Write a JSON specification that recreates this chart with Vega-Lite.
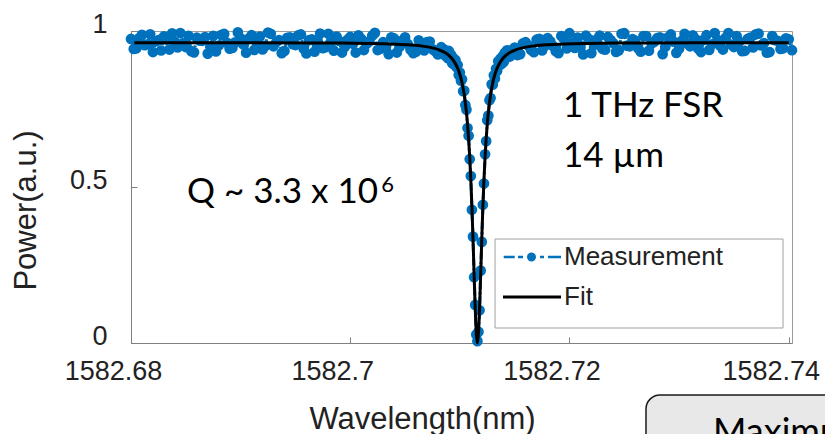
{
  "$schema": "https://vega.github.io/schema/vega-lite/v6.json",
  "width": 661,
  "height": 312,
  "autosize": "none",
  "padding": {"left": 131, "top": 31, "right": 33, "bottom": 91},
  "background": "white",
  "config": {
    "view": {"stroke": "#9a9a9a", "strokeWidth": 1},
    "axis": {
      "grid": false,
      "domainColor": "#808080",
      "tickColor": "#808080",
      "tickSize": -6,
      "labelFont": "Liberation Sans",
      "labelColor": "#222222",
      "titleFont": "Liberation Sans",
      "titleColor": "#222222",
      "titleFontWeight": "normal"
    }
  },
  "datasets": {
    "measurement": [
      {"x":1582.6800,"y":0.9745},{"x":1582.6805,"y":0.9445},{"x":1582.6810,"y":0.9875},{"x":1582.6815,"y":0.9575},
      {"x":1582.6820,"y":0.9325},{"x":1582.6825,"y":0.9705},{"x":1582.6830,"y":0.9825},{"x":1582.6835,"y":0.9405},
      {"x":1582.6840,"y":0.9655},{"x":1582.6845,"y":0.9935},{"x":1582.6850,"y":0.9485},{"x":1582.6855,"y":0.9355},
      {"x":1582.6860,"y":0.9785},{"x":1582.6865,"y":0.9685},{"x":1582.6870,"y":0.9275},{"x":1582.6875,"y":0.9845},
      {"x":1582.6880,"y":0.9535},{"x":1582.6885,"y":0.9905},{"x":1582.6890,"y":0.9435},{"x":1582.6895,"y":0.9635},
      {"x":1582.6900,"y":0.9765},{"x":1582.6905,"y":0.9305},{"x":1582.6910,"y":0.9865},{"x":1582.6915,"y":0.9595},
      {"x":1582.6920,"y":0.941},{"x":1582.6925,"y":0.995},{"x":1582.6930,"y":0.951},{"x":1582.6935,"y":0.971},
      {"x":1582.6940,"y":0.936},{"x":1582.6945,"y":0.980},{"x":1582.6950,"y":0.955},{"x":1582.6955,"y":0.989},
      {"x":1582.6960,"y":0.928},{"x":1582.6965,"y":0.973},{"x":1582.6970,"y":0.963},{"x":1582.6975,"y":0.945},
      {"x":1582.6980,"y":0.991},{"x":1582.6985,"y":0.937},{"x":1582.6990,"y":0.968},{"x":1582.6995,"y":0.949},
      {"x":1582.7000,"y":0.981},{"x":1582.7005,"y":0.931},{"x":1582.7010,"y":0.975},{"x":1582.7015,"y":0.959},
      {"x":1582.7020,"y":0.985},{"x":1582.7025,"y":0.939},{"x":1582.7030,"y":0.964},{"x":1582.7035,"y":0.926},
      {"x":1582.7040,"y":0.976},{"x":1582.7045,"y":0.949},{"x":1582.7050,"y":0.9795},{"x":1582.7055,"y":0.940},
      {"x":1582.7060,"y":0.934},{"x":1582.7065,"y":0.961},{"x":1582.7070,"y":0.964},{"x":1582.7075,"y":0.942},
      {"x":1582.7080,"y":0.925},{"x":1582.7083,"y":0.948},
      {"x":1582.68025,"y":0.9425},{"x":1582.68075,"y":0.9775},{"x":1582.68125,"y":0.9545},{"x":1582.68175,"y":0.9895},
      {"x":1582.68225,"y":0.9665},{"x":1582.68275,"y":0.9375},{"x":1582.68325,"y":0.9725},{"x":1582.68375,"y":0.9925},
      {"x":1582.68425,"y":0.9475},{"x":1582.68475,"y":0.9605},{"x":1582.68525,"y":0.9845},{"x":1582.68575,"y":0.9315},
      {"x":1582.68625,"y":0.9695},{"x":1582.68675,"y":0.9805},{"x":1582.68725,"y":0.9505},{"x":1582.68775,"y":0.9345},
      {"x":1582.68825,"y":0.9875},{"x":1582.68875,"y":0.9625},{"x":1582.68925,"y":0.9455},{"x":1582.68975,"y":0.9955},
      {"x":1582.69025,"y":0.9565},{"x":1582.69075,"y":0.9755},{"x":1582.69125,"y":0.9395},{"x":1582.69175,"y":0.982},
      {"x":1582.69225,"y":0.952},{"x":1582.69275,"y":0.991},{"x":1582.69325,"y":0.964},{"x":1582.69375,"y":0.929},
      {"x":1582.69425,"y":0.978},{"x":1582.69475,"y":0.958},{"x":1582.69525,"y":0.986},{"x":1582.69575,"y":0.943},
      {"x":1582.69625,"y":0.971},{"x":1582.69675,"y":0.934},{"x":1582.69725,"y":0.992},{"x":1582.69775,"y":0.948},
      {"x":1582.69825,"y":0.966},{"x":1582.69875,"y":0.982},{"x":1582.69925,"y":0.931},{"x":1582.69975,"y":0.972},
      {"x":1582.70025,"y":0.959},{"x":1582.70075,"y":0.986},{"x":1582.70125,"y":0.939},{"x":1582.70175,"y":0.967},
      {"x":1582.70225,"y":0.994},{"x":1582.70275,"y":0.943},{"x":1582.70325,"y":0.950},{"x":1582.70375,"y":0.980},
      {"x":1582.70425,"y":0.931},{"x":1582.70475,"y":0.9695},{"x":1582.70525,"y":0.9585},{"x":1582.70575,"y":0.929},
      {"x":1582.70625,"y":0.970},{"x":1582.70675,"y":0.938},{"x":1582.70725,"y":0.966},{"x":1582.70775,"y":0.935},
      {"x":1582.7086,"y":0.940},{"x":1582.7087,"y":0.920},{"x":1582.7088,"y":0.932},{"x":1582.7089,"y":0.913},
      {"x":1582.7090,"y":0.936},{"x":1582.7091,"y":0.913},{"x":1582.7092,"y":0.924},{"x":1582.7093,"y":0.897},
      {"x":1582.7094,"y":0.913},{"x":1582.7095,"y":0.892},{"x":1582.7096,"y":0.907},{"x":1582.7097,"y":0.884},
      {"x":1582.7098,"y":0.891},{"x":1582.7099,"y":0.859},{"x":1582.7100,"y":0.867},{"x":1582.7101,"y":0.841},
      {"x":1582.7102,"y":0.845},{"x":1582.7103,"y":0.807},{"x":1582.7104,"y":0.809},{"x":1582.7105,"y":0.763},
      {"x":1582.7106,"y":0.748},{"x":1582.7107,"y":0.689},{"x":1582.7108,"y":0.664},{"x":1582.7109,"y":0.589},
      {"x":1582.7110,"y":0.535},{"x":1582.7111,"y":0.427},{"x":1582.7112,"y":0.341},{"x":1582.7113,"y":0.211},
      {"x":1582.7114,"y":0.122},{"x":1582.7115,"y":0.027},{"x":1582.7116,"y":0.006},{"x":1582.7117,"y":0.036},
      {"x":1582.7118,"y":0.105},{"x":1582.7119,"y":0.232},{"x":1582.7120,"y":0.324},{"x":1582.7121,"y":0.443},
      {"x":1582.7122,"y":0.511},{"x":1582.7123,"y":0.605},{"x":1582.7124,"y":0.647},{"x":1582.7125,"y":0.714},
      {"x":1582.7126,"y":0.729},{"x":1582.7127,"y":0.778},{"x":1582.7128,"y":0.785},{"x":1582.7129,"y":0.829},
      {"x":1582.7130,"y":0.828},{"x":1582.7131,"y":0.858},{"x":1582.7132,"y":0.848},{"x":1582.7133,"y":0.879},
      {"x":1582.7134,"y":0.872},{"x":1582.7135,"y":0.903},{"x":1582.7136,"y":0.890},{"x":1582.7137,"y":0.911},
      {"x":1582.7138,"y":0.894},{"x":1582.7139,"y":0.919},{"x":1582.7140,"y":0.901},{"x":1582.7141,"y":0.930},
      {"x":1582.7142,"y":0.915},{"x":1582.7143,"y":0.938},{"x":1582.7144,"y":0.917},{"x":1582.7145,"y":0.936},
      {"x":1582.7146,"y":0.919},
      {"x":1582.7150,"y":0.947},{"x":1582.7155,"y":0.926},{"x":1582.7160,"y":0.964},{"x":1582.7165,"y":0.939},
      {"x":1582.7170,"y":0.972},{"x":1582.7175,"y":0.9375},{"x":1582.7180,"y":0.9775},{"x":1582.7185,"y":0.952},
      {"x":1582.7190,"y":0.929},{"x":1582.7195,"y":0.975},{"x":1582.7200,"y":0.993},{"x":1582.7205,"y":0.946},
      {"x":1582.7210,"y":0.953},{"x":1582.7215,"y":0.985},{"x":1582.7220,"y":0.929},{"x":1582.7225,"y":0.973},
      {"x":1582.7230,"y":0.943},{"x":1582.7235,"y":0.981},{"x":1582.7240,"y":0.961},{"x":1582.7245,"y":0.938},
      {"x":1582.7250,"y":0.993},{"x":1582.7255,"y":0.951},{"x":1582.7260,"y":0.969},{"x":1582.7265,"y":0.934},
      {"x":1582.7270,"y":0.984},{"x":1582.7275,"y":0.960},{"x":1582.7280,"y":0.977},{"x":1582.7285,"y":0.926},
      {"x":1582.7290,"y":0.980},{"x":1582.7295,"y":0.966},{"x":1582.7300,"y":0.943},{"x":1582.7305,"y":0.991},
      {"x":1582.7310,"y":0.951},{"x":1582.7315,"y":0.974},{"x":1582.7320,"y":0.9325},{"x":1582.7325,"y":0.9865},
      {"x":1582.7330,"y":0.9575},{"x":1582.7335,"y":0.9715},{"x":1582.7340,"y":0.9405},{"x":1582.7345,"y":0.9935},
      {"x":1582.7350,"y":0.9485},{"x":1582.7355,"y":0.9655},{"x":1582.7360,"y":0.9365},{"x":1582.7365,"y":0.9785},
      {"x":1582.7370,"y":0.9895},{"x":1582.7375,"y":0.9535},{"x":1582.7380,"y":0.9305},{"x":1582.7385,"y":0.9835},
      {"x":1582.7390,"y":0.9685},{"x":1582.7395,"y":0.9445},{"x":1582.7400,"y":0.9735},{"x":1582.7403,"y":0.9385},
      {"x":1582.71525,"y":0.923},{"x":1582.71575,"y":0.960},{"x":1582.71625,"y":0.953},{"x":1582.71675,"y":0.932},
      {"x":1582.71725,"y":0.975},{"x":1582.71775,"y":0.952},{"x":1582.71825,"y":0.967},{"x":1582.71875,"y":0.935},
      {"x":1582.71925,"y":0.984},{"x":1582.71975,"y":0.944},{"x":1582.72025,"y":0.960},{"x":1582.72075,"y":0.979},
      {"x":1582.72125,"y":0.925},{"x":1582.72175,"y":0.975},{"x":1582.72225,"y":0.955},{"x":1582.72275,"y":0.985},
      {"x":1582.72325,"y":0.940},{"x":1582.72375,"y":0.971},{"x":1582.72425,"y":0.933},{"x":1582.72475,"y":0.991},
      {"x":1582.72525,"y":0.953},{"x":1582.72575,"y":0.974},{"x":1582.72625,"y":0.945},{"x":1582.72675,"y":0.984},
      {"x":1582.72725,"y":0.937},{"x":1582.72775,"y":0.966},{"x":1582.72825,"y":0.980},{"x":1582.72875,"y":0.950},
      {"x":1582.72925,"y":0.989},{"x":1582.72975,"y":0.930},{"x":1582.73025,"y":0.969},{"x":1582.73075,"y":0.960},
      {"x":1582.73125,"y":0.986},{"x":1582.73175,"y":0.9435},{"x":1582.73225,"y":0.9715},{"x":1582.73275,"y":0.9395},
      {"x":1582.73325,"y":0.9935},{"x":1582.73375,"y":0.9525},{"x":1582.73425,"y":0.9785},{"x":1582.73475,"y":0.9565},
      {"x":1582.73525,"y":0.9835},{"x":1582.73575,"y":0.9355},{"x":1582.73625,"y":0.9745},{"x":1582.73675,"y":0.9475},
      {"x":1582.73725,"y":0.9915},{"x":1582.73775,"y":0.9615},{"x":1582.73825,"y":0.9325},{"x":1582.73875,"y":0.9705},
      {"x":1582.73925,"y":0.9425},{"x":1582.73975,"y":0.9765}
    ],
    "fit": [
      {"x":1582.6803,"y":0.9627},{"x":1582.6866,"y":0.9625},{"x":1582.6916,"y":0.9623},{"x":1582.6966,"y":0.9617},
      {"x":1582.6991,"y":0.9612},{"x":1582.7016,"y":0.9601},{"x":1582.7036,"y":0.9585},{"x":1582.7046,"y":0.9571},
      {"x":1582.7056,"y":0.9550},{"x":1582.7066,"y":0.9515},{"x":1582.7076,"y":0.9451},{"x":1582.7081,"y":0.9398},
      {"x":1582.7086,"y":0.9317},{"x":1582.7090,"y":0.9218},{"x":1582.7093,"y":0.9109},{"x":1582.7096,"y":0.8953},
      {"x":1582.7098,"y":0.8808},{"x":1582.7100,"y":0.8612},{"x":1582.7102,"y":0.8342},{"x":1582.7104,"y":0.7958},
      {"x":1582.7106,"y":0.7394},{"x":1582.7107,"y":0.7012},{"x":1582.7108,"y":0.6539},{"x":1582.7109,"y":0.5954},
      {"x":1582.7110,"y":0.5233},{"x":1582.7111,"y":0.4358},{"x":1582.7112,"y":0.3331},{"x":1582.7113,"y":0.2208},
      {"x":1582.7114,"y":0.1125},{"x":1582.7115,"y":0.0308},{"x":1582.7116,"y":0.0},
      {"x":1582.7117,"y":0.0308},{"x":1582.7118,"y":0.1125},{"x":1582.7119,"y":0.2208},{"x":1582.7120,"y":0.3331},
      {"x":1582.7121,"y":0.4358},{"x":1582.7122,"y":0.5233},{"x":1582.7123,"y":0.5954},{"x":1582.7124,"y":0.6539},
      {"x":1582.7125,"y":0.7012},{"x":1582.7126,"y":0.7394},{"x":1582.7128,"y":0.7958},{"x":1582.7130,"y":0.8342},
      {"x":1582.7132,"y":0.8612},{"x":1582.7134,"y":0.8808},{"x":1582.7136,"y":0.8953},{"x":1582.7139,"y":0.9109},
      {"x":1582.7142,"y":0.9218},{"x":1582.7146,"y":0.9317},{"x":1582.7151,"y":0.9398},{"x":1582.7156,"y":0.9451},
      {"x":1582.7166,"y":0.9515},{"x":1582.7176,"y":0.9550},{"x":1582.7186,"y":0.9571},{"x":1582.7196,"y":0.9585},
      {"x":1582.7216,"y":0.9601},{"x":1582.7241,"y":0.9612},{"x":1582.7266,"y":0.9617},{"x":1582.7316,"y":0.9623},
      {"x":1582.7366,"y":0.9625},{"x":1582.7400,"y":0.9627}
    ],
    "notes": [
      {"x":1582.71941,"y":0.7244,"label":"1 THz FSR","size":35},
      {"x":1582.71941,"y":0.5641,"label":"14 µm","size":35},
      {"x":1582.68511,"y":0.4487,"label":"Q ~ 3.3 x 10","size":35},
      {"x":1582.70282,"y":0.484,"label":"6","size":22},
      {"x":1582.73309,"y":-0.3237,"label":"Maximum","size":36}
    ],
    "boxes": [
      {"x":1582.71321,"x2":1582.73948,"y":0.3333,"y2":0.0481,"kind":"legend"},
      {"x":1582.72698,"x2":1582.76,"y":-0.1667,"y2":-0.6,"kind":"callout"}
    ]
  },
  "encoding": {
    "x": {
      "field": "x",
      "type": "quantitative",
      "scale": {"domain": [1582.68, 1582.7403], "nice": false, "zero": false},
      "axis": {
        "title": "Wavelength(nm)",
        "values": [1582.68, 1582.7, 1582.72, 1582.74],
        "format": "~g",
        "labelFontSize": 27,
        "labelPadding": 21,
        "labelOffset": -18,
        "labelFlush": false,
        "labelOverlap": false,
        "titleFontSize": 31,
        "titleX": 291,
        "titleY": 85,
        "titleAlign": "center",
        "titleBaseline": "alphabetic"
      }
    },
    "y": {
      "field": "y",
      "type": "quantitative",
      "scale": {"domain": [0, 1], "nice": false},
      "axis": {
        "title": "Power(a.u.)",
        "values": [0, 0.5, 1],
        "format": "~g",
        "labelFontSize": 27,
        "labelPadding": 30,
        "labelOffset": -7,
        "labelFlush": false,
        "labelOverlap": false,
        "titleFontSize": 31,
        "titleAngle": -90,
        "titleX": -96,
        "titleY": 179,
        "titleAlign": "center",
        "titleBaseline": "alphabetic"
      }
    }
  },
  "layer": [
    {
      "data": {"name": "measurement"},
      "mark": {"type": "line", "strokeDash": [7, 3, 2, 3], "strokeWidth": 3},
      "encoding": {
        "color": {
          "datum": "Measurement",
          "scale": {"domain": ["Measurement", "Fit"], "range": ["#0072BD", "#000000"]},
          "legend": {
            "title": null,
            "orient": "none",
            "legendX": 364,
            "legendY": 208,
            "direction": "vertical",
            "padding": 5,
            "fillColor": "transparent",
            "strokeColor": "transparent",
            "labelFont": "Liberation Sans",
            "labelFontSize": 26,
            "labelColor": "#222222",
            "labelLimit": 400,
            "labelOffset": 38,
            "rowPadding": 14,
            "symbolSize": 400,
            "encode": {
              "symbols": {
                "update": {
                  "shape": {"signal": "datum.value === 'Fit' ? 'M-1,-0.15H4.8V0.15H-1Z' : 'M-0.93,-0.12H0.17V0.12H-0.93Z M0.5,-0.12H1V0.12H0.5Z M1.4,0A0.45,0.45 0 1,0 2.3,0A0.45,0.45 0 1,0 1.4,0Z M2.7,-0.12H3.1V0.12H2.7Z M3.5,-0.12H4.8V0.12H3.5Z'"},
                  "fill": {"signal": "datum.value === 'Fit' ? '#000000' : '#0072BD'"},
                  "fillOpacity": {"value": 1},
                  "stroke": {"value": "transparent"},
                  "strokeWidth": {"value": 0},
                  "opacity": {"value": 1},
                  "size": {"value": 400}
                }
              }
            }
          }
        }
      }
    },
    {
      "data": {"name": "measurement"},
      "mark": {"type": "point", "filled": true, "size": 115, "opacity": 1},
      "encoding": {"color": {"datum": "Measurement"}}
    },
    {
      "data": {"name": "fit"},
      "mark": {"type": "line", "strokeWidth": 3, "interpolate": "monotone"},
      "encoding": {"color": {"datum": "Fit"}}
    },
    {
      "data": {"name": "boxes"},
      "transform": [{"filter": "datum.kind === 'legend'"}],
      "mark": {"type": "rect", "fill": "white", "stroke": "#a0a0a0", "strokeWidth": 1},
      "encoding": {"x2": {"field": "x2"}, "y2": {"field": "y2"}}
    },
    {
      "data": {"name": "boxes"},
      "transform": [{"filter": "datum.kind === 'callout'"}],
      "mark": {"type": "rect", "cornerRadius": 14, "fill": "#e8e8e8", "stroke": "#1a1a1a", "strokeWidth": 1.5},
      "encoding": {"x2": {"field": "x2"}, "y2": {"field": "y2"}}
    },
    {
      "data": {"name": "notes"},
      "mark": {"type": "text", "font": "Lato", "align": "left", "baseline": "alphabetic", "color": "#000000"},
      "encoding": {
        "text": {"field": "label"},
        "size": {"field": "size", "type": "quantitative", "scale": null}
      }
    }
  ]
}
